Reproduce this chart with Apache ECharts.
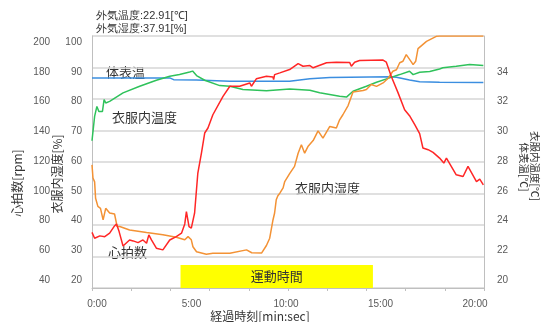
<!DOCTYPE html>
<html>
<head>
<meta charset="utf-8">
<script src="https://cdn.jsdelivr.net/npm/echarts@6/dist/echarts.min.js"></script>
<style>
html, body {margin: 0; padding: 0; background: #fff;}
#chart {width: 544px; height: 322px;}
</style>
</head>
<body>
<div id="chart"></div>
<script>
"use strict";
// elapsed time in seconds
var hrTime = [0, 8, 24, 39, 54, 69, 75, 83, 95, 115, 126, 141, 156, 167, 174, 182, 197, 217, 238, 258, 274, 284, 289, 297, 304, 314, 324, 335, 345, 355, 370, 401, 422, 452, 483, 488, 503, 534, 554, 556, 559, 575, 605, 631, 646, 667, 677, 718, 748, 789, 794, 804, 819, 891, 901, 916, 937, 957, 972, 988, 1003, 1013, 1029, 1044, 1064, 1077, 1085, 1115, 1136, 1151, 1177, 1187, 1198];
var heartRate = [75.3, 71.6, 73.1, 72.6, 74.8, 79.4, 80.7, 75.8, 66.7, 70.5, 69.9, 68.8, 70.5, 68.4, 73.7, 70.5, 65.3, 64.2, 70.5, 72.6, 74.8, 80.7, 88.5, 79.0, 78.0, 87.5, 113.0, 125.7, 138.4, 141.6, 150.0, 161.7, 168.1, 168.1, 170.2, 168.1, 172.8, 174.4, 174.0, 172.3, 175.5, 176.6, 178.7, 182.5, 180.8, 181.2, 179.8, 183.0, 183.3, 183.1, 180.8, 183.3, 184.4, 184.7, 183.4, 174.4, 163.9, 153.2, 149.4, 143.7, 138.0, 128.9, 127.8, 126.1, 122.5, 119.3, 122.5, 111.9, 110.8, 117.2, 107.6, 109.1, 105.5];

var humTime = [0, 3, 8, 11, 18, 26, 34, 42, 54, 69, 77, 85, 115, 167, 217, 258, 284, 294, 304, 309, 320, 350, 370, 422, 473, 489, 519, 534, 544, 554, 559, 564, 569, 575, 585, 590, 605, 620, 631, 641, 651, 661, 677, 692, 707, 728, 748, 758, 768, 784, 799, 830, 840, 855, 871, 891, 906, 921, 932, 942, 952, 962, 967, 978, 983, 991, 998, 1024, 1054, 1064, 1198];
var humidity = [59.1, 54.9, 53.7, 48.5, 45.9, 45.3, 41.6, 45.3, 43.8, 43.5, 39.5, 39.5, 38.4, 37.6, 36.9, 36.1, 35.3, 36.3, 35.3, 33.1, 31.5, 30.7, 31.0, 31.0, 32.1, 31.2, 31.1, 33.5, 35.8, 41.6, 43.8, 48.0, 49.3, 50.1, 51.8, 53.8, 56.3, 58.6, 62.8, 65.5, 62.8, 64.9, 66.8, 69.9, 67.6, 71.3, 70.8, 73.4, 75.0, 77.9, 82.2, 82.7, 83.0, 84.6, 84.0, 85.1, 86.5, 88.8, 89.3, 91.5, 92.0, 94.1, 94.6, 91.7, 90.9, 92.0, 96.0, 98.3, 99.9, 100, 100];

var clothTime = [0, 8, 15, 21, 32, 37, 42, 54, 95, 146, 197, 238, 268, 299, 308, 320, 345, 391, 422, 462, 534, 605, 667, 697, 758, 779, 799, 840, 871, 911, 942, 972, 983, 1003, 1034, 1064, 1074, 1115, 1156, 1198];
var clothTemp = [29.35, 30.90, 31.53, 31.21, 31.21, 31.96, 31.75, 31.85, 32.39, 32.81, 33.19, 33.44, 33.55, 33.72, 33.77, 33.49, 33.19, 32.85, 32.81, 32.60, 32.53, 32.64, 32.55, 32.40, 32.17, 32.12, 32.49, 32.81, 33.06, 33.34, 33.55, 33.76, 33.55, 33.70, 33.74, 33.91, 33.98, 34.08, 34.19, 34.12];

var skinTime = [0, 238, 250, 320, 422, 605, 667, 728, 789, 911, 932, 972, 1003, 1064, 1198];
var skinTemp = [33.34, 33.34, 33.23, 33.20, 33.12, 33.12, 33.29, 33.36, 33.38, 33.42, 33.38, 33.20, 33.09, 33.06, 33.04];

var exerciseSpan = [271, 860];
var outsideTemp = "22.91";
var outsideHumidity = "37.91";

var FONT = "Noto Sans CJK JP";
var GRID_C = "#d6d6d6";
var LABEL_C = "#595959";

function pairs(t, v) {
    return t.map(function (x, i) { return [x, v[i]]; });
}

var chart = echarts.init(document.getElementById("chart"));

function hiddenX(g) {
    return {gridIndex: g, type: "value", min: 0, max: 1, show: false};
}
function hiddenY(g) {
    return {gridIndex: g, type: "value", min: 0, max: 1, show: false};
}
function labelY(g, min, max, step, pos, hideMax) {
    return {
        gridIndex: g, type: "value", min: min, max: max, interval: step, position: pos,
        axisLine: {show: false}, axisTick: {show: false}, splitLine: {show: false},
        axisLabel: {
            fontSize: 10, color: LABEL_C, fontFamily: "Liberation Sans", margin: 4,
            formatter: function (v) { return hideMax && v === max ? "" : String(v); }
        }
    };
}

var option = {
    animation: false,
    backgroundColor: "#fff",
    grid: [
        {left: 92, right: 60, top: 36, bottom: 34},
        {left: 54, width: 1, top: 42, bottom: 42},
        {left: 86, width: 1, top: 42, bottom: 42},
        {left: 492, width: 1, top: 42, bottom: 42},
        {left: 97, right: 69, top: 289, height: 1}
    ],
    xAxis: [
        {
            gridIndex: 0, type: "value", min: 0, max: 1200, interval: 120,
            axisLine: {lineStyle: {color: "#bfbfbf", width: 1}},
            axisTick: {length: 3, lineStyle: {color: "#bfbfbf"}},
            axisLabel: {show: false}, splitLine: {show: false}
        },
        hiddenX(1), hiddenX(2), hiddenX(3),
        {
            gridIndex: 4, type: "value", min: 0, max: 1200, interval: 300,
            axisLine: {show: false}, axisTick: {show: false}, splitLine: {show: false},
            axisLabel: {
                fontSize: 10, color: LABEL_C, fontFamily: "Liberation Sans", margin: 9,
                formatter: function (v) { return (v / 60) + ":00"; }
            }
        }
    ],
    yAxis: [
        {
            gridIndex: 0, type: "value", min: 20, max: 100, interval: 10, position: "left",
            axisLine: {show: true, lineStyle: {color: "#bfbfbf"}}, axisTick: {show: false},
            axisLabel: {show: false},
            splitLine: {lineStyle: {color: GRID_C, width: 1.5}}
        },
        {gridIndex: 0, type: "value", min: 40, max: 200, show: false},
        {
            gridIndex: 0, type: "value", min: 20, max: 36, interval: 2, position: "right",
            axisLine: {show: true, lineStyle: {color: "#bfbfbf"}}, axisTick: {show: false},
            axisLabel: {show: false}, splitLine: {show: false}
        },
        labelY(1, 40, 200, 20, "left", false),
        labelY(2, 20, 100, 10, "left", false),
        labelY(3, 20, 36, 2, "right", true),
        hiddenY(4)
    ],
    series: [
        {
            name: "体表温", type: "line", xAxisIndex: 0, yAxisIndex: 2,
            symbol: "none", lineStyle: {color: "#3b8ee0", width: 1.5},
            data: pairs(skinTime, skinTemp)
        },
        {
            name: "衣服内温度", type: "line", xAxisIndex: 0, yAxisIndex: 2,
            symbol: "none", lineStyle: {color: "#2fc25b", width: 1.5},
            data: pairs(clothTime, clothTemp)
        },
        {
            name: "衣服内湿度", type: "line", xAxisIndex: 0, yAxisIndex: 0,
            symbol: "none", lineStyle: {color: "#f39235", width: 1.5},
            data: pairs(humTime, humidity),
            markArea: {
                silent: true,
                itemStyle: {color: "#ffff00", opacity: 1},
                label: {show: true, position: "inside", color: "#333", fontSize: 13, fontFamily: FONT},
                data: [[
                    {name: "運動時間", xAxis: exerciseSpan[0], yAxis: 20},
                    {xAxis: exerciseSpan[1], yAxis: 27.3}
                ]]
            }
        },
        {
            name: "心拍数", type: "line", xAxisIndex: 0, yAxisIndex: 1,
            symbol: "none", lineStyle: {color: "#ff2626", width: 1.5},
            data: pairs(hrTime, heartRate)
        }
    ],
    graphic: [
        {type: "text", x: 96, y: 16, style: {text: "外気温度:" + outsideTemp + "[℃]", fontSize: 11, fill: "#333", font: "11px '" + FONT + "'", verticalAlign: "middle"}},
        {type: "text", x: 96, y: 29, style: {text: "外気湿度:" + outsideHumidity + "[%]", fontSize: 11, fill: "#333", font: "11px '" + FONT + "'", verticalAlign: "middle"}},
        {type: "text", x: 106, y: 72, style: {text: "体表温", fill: "#333", font: "13px '" + FONT + "'", verticalAlign: "middle"}},
        {type: "text", x: 112, y: 117, style: {text: "衣服内温度", fill: "#333", font: "13px '" + FONT + "'", verticalAlign: "middle"}},
        {type: "text", x: 108, y: 252, style: {text: "心拍数", fill: "#333", font: "13px '" + FONT + "'", verticalAlign: "middle"}},
        {type: "text", x: 295, y: 188, style: {text: "衣服内湿度", fill: "#333", font: "13px '" + FONT + "'", verticalAlign: "middle"}},
        {type: "text", x: 17, y: 183, rotation: Math.PI / 2, style: {text: "心拍数[rpm]", fill: "#333", font: "12px '" + FONT + "'", align: "center", verticalAlign: "middle"}},
        {type: "text", x: 57, y: 174, rotation: Math.PI / 2, style: {text: "衣服内湿度[%]", fill: "#333", font: "12px '" + FONT + "'", align: "center", verticalAlign: "middle"}},
        {type: "text", x: 535, y: 166, rotation: -Math.PI / 2, style: {text: "衣服内温度[℃]", fill: "#333", font: "10.5px '" + FONT + "'", align: "center", verticalAlign: "middle"}},
        {type: "text", x: 524, y: 167, rotation: -Math.PI / 2, style: {text: "体表温[℃]", fill: "#333", font: "10.5px '" + FONT + "'", align: "center", verticalAlign: "middle"}},
        {type: "text", x: 260, y: 316, style: {text: "経過時刻[min:sec]", fill: "#333", font: "12px '" + FONT + "'", align: "center", verticalAlign: "middle"}}
    ]
};

chart.setOption(option);
</script>
</body>
</html>
